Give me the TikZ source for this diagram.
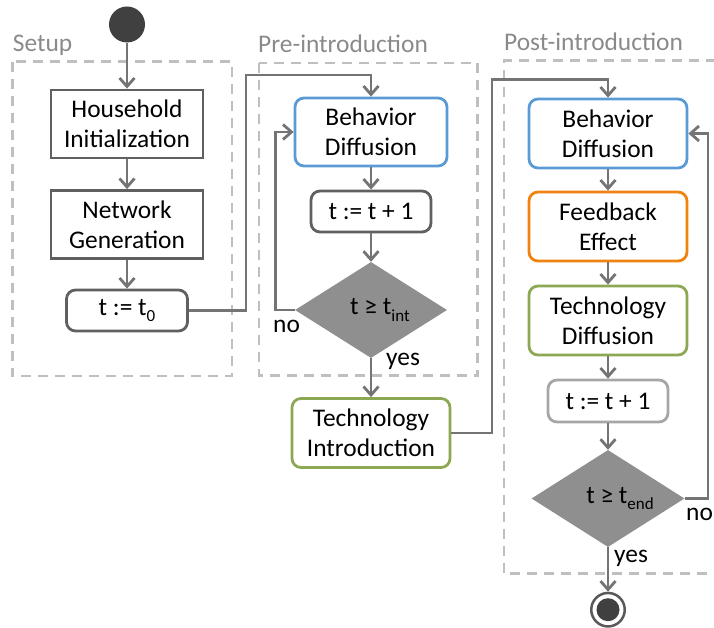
\documentclass[tikz,border=0pt]{standalone}
\usepackage{fontspec}
\setmainfont{Carlito}
\usetikzlibrary{arrows.meta,shapes.geometric}
\definecolor{cgray}{HTML}{747474}
\definecolor{boxgray}{HTML}{606060}
\definecolor{lightboxgray}{HTML}{A6A6A6}
\definecolor{dashgray}{HTML}{BFBFBF}
\definecolor{labelgray}{HTML}{8A8A8A}
\definecolor{diagray}{HTML}{8F8F8F}
\definecolor{darkfill}{HTML}{404040}
\definecolor{ringgray}{HTML}{595959}
\definecolor{bblue}{HTML}{5B9BD5}
\definecolor{borange}{HTML}{F0820F}
\definecolor{bgreen}{HTML}{8DA852}
\newcommand\subt[1]{\raisebox{-0.27em}{\fontsize{17}{17}\selectfont #1}}
\tikzset{
  box/.style={draw=boxgray, line width=2.8pt, fill=white, inner sep=0pt, align=center, text=black},
  rbox/.style={box, rounded corners=9pt},
  conn/.style={draw=cgray, line width=2.8pt, -{Straight Barb[length=8.5pt,width=15pt]}},
  dia/.style={diamond, fill=diagray, inner sep=0pt, aspect=1.6, minimum width=152pt, minimum height=96pt, text=black},
  group/.style={draw=dashgray, line width=2.5pt, dash pattern=on 10pt off 7pt},
  grouplabel/.style={text=labelgray, anchor=base west, inner sep=0pt},
  lbl/.style={anchor=base west, inner sep=0pt, text=black},
  bigbox/.style={minimum width=152pt, minimum height=68pt},
  widebox/.style={minimum width=158pt, minimum height=69pt},
  smallbox/.style={minimum width=120pt, minimum height=41pt},
}
\begin{document}
\begin{tikzpicture}[x=1pt, y=-1pt, font=\fontsize{25.4}{30}\selectfont]
\useasboundingbox (0,0) rectangle (714,628);

% group frames
\draw[group] (12.5,61.7) rectangle (232,376);
\draw[group] (259,63) rectangle (477.5,375.5);
\draw[group] (716,60.7) -| (504,573.3) -- (716,573.3);
\node[grouplabel] (lsetup) at (12.7,52) {Setup};
\node[grouplabel] (lpre) at (258,53) {Pre-introduction};
\node[grouplabel] (lpost) at (504,51) {Post-introduction};

% setup
\node[circle, fill=darkfill, minimum size=36pt, inner sep=0pt] (start) at (127,24.5) {};
\node[box, bigbox] (hi) at (127,124) {Household\\Initialization};
\node[box, bigbox] (ng) at (127,224.5) {Network\\Generation};
\node[rbox, minimum width=121pt, minimum height=41pt] (t0) at (127,310.5) {t := t\subt{0}};

% pre-introduction
\node[rbox, bigbox, draw=bblue] (bd1) at (371,132) {Behavior\\Diffusion};
\node[rbox, smallbox] (inc1) at (371,211.5) {t := t + 1};
\node[dia] (d1) at (371,310) {\hspace*{18pt}t ≥ t\subt{int}};
\node[rbox, widebox, draw=bgreen] (ti) at (371,433) {Technology\\Introduction};

% post-introduction
\node[rbox, widebox, draw=bblue] (bd2) at (608,133.5) {Behavior\\Diffusion};
\node[rbox, widebox, draw=borange] (fe) at (608,226.5) {Feedback\\Effect};
\node[rbox, widebox, draw=bgreen] (td) at (608,320.5) {Technology\\Diffusion};
\node[rbox, smallbox, minimum height=42pt, draw=lightboxgray] (inc2) at (608,401) {t := t + 1};
\node[dia, minimum width=153pt, minimum height=97pt] (d2) at (608,498.5) {\hspace*{24pt}t ≥ t\subt{end}};
\node[circle, draw=ringgray, line width=2.5pt, fill=white, minimum size=33.5pt, inner sep=0pt] (end) at (608,609.7) {};
\node[circle, fill=darkfill, minimum size=23pt, inner sep=0pt] (endcore) at (end.center) {};

% junction points
\coordinate (j1) at (246,75);
\coordinate (j2) at (275.5,200);
\coordinate (j3) at (492,79.3);
\coordinate (j4) at (708,300);

% connectors
\draw[conn] (start) -- (hi);
\draw[conn] (hi) -- (ng);
\draw[conn] (ng) -- (t0);
\draw[conn] (t0.east) -| (j1) -| (bd1.north);
\draw[conn] (bd1) -- (inc1);
\draw[conn] (inc1) -- (d1.north);
\draw[conn] (d1.west) -| (j2) |- (bd1.west);
\draw[conn] (d1.south) -- (ti);
\draw[conn] (ti.east) -| (j3) -| (bd2.north);
\draw[conn] (bd2) -- (fe);
\draw[conn] (fe) -- (td);
\draw[conn] (td) -- (inc2);
\draw[conn] (inc2) -- (d2.north);
\draw[conn] (d2.east) -| (j4) |- (bd2.east);
\draw[conn] (d2.south) -- (end);

% branch labels
\node[lbl] (no1) at (273,332) {no};
\node[lbl] (yes1) at (386,365) {yes};
\node[lbl] (no2) at (686,520) {no};
\node[lbl] (yes2) at (614,562) {yes};
\end{tikzpicture}
\end{document}
